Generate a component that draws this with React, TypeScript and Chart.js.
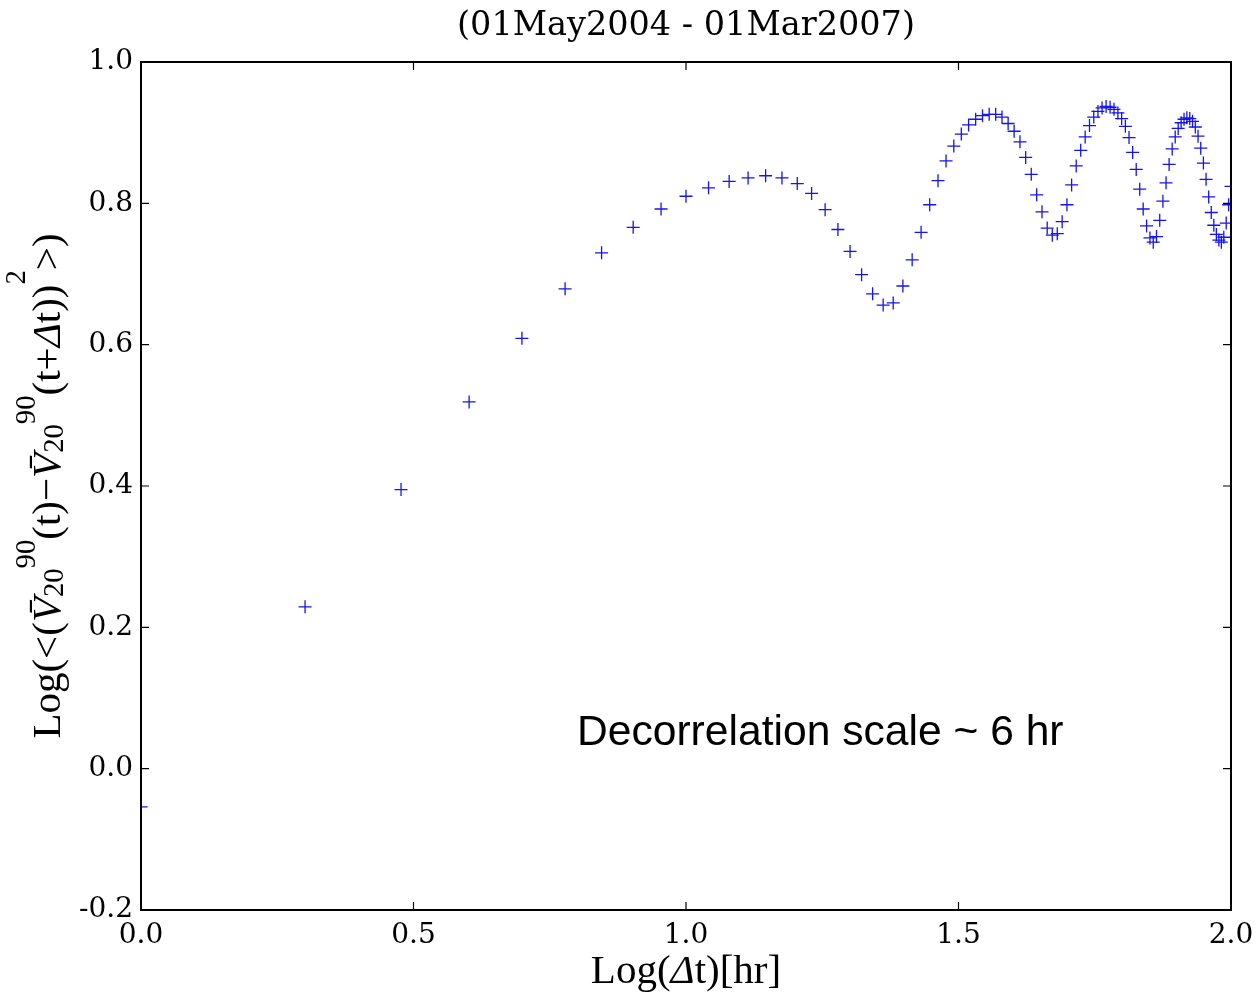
import React, { useEffect, useRef } from "react";
import { Chart, registerables } from "chart.js";

Chart.register(...registerables);

// ---------------- data ----------------
const TITLE = "(01May2004 - 01Mar2007)";

const LAG_HOURS = [
  1, 2, 3, 4, 5, 6, 7, 8, 9, 10,
  11, 12, 13, 14, 15, 16, 17, 18, 19, 20,
  21, 22, 23, 24, 25, 26, 27, 28, 29, 30,
  31, 32, 33, 34, 35, 36, 37, 38, 39, 40,
  41, 42, 43, 44, 45, 46, 47, 48, 49, 50,
  51, 52, 53, 54, 55, 56, 57, 58, 59, 60,
  61, 62, 63, 64, 65, 66, 67, 68, 69, 70,
  71, 72, 73, 74, 75, 76, 77, 78, 79, 80,
  81, 82, 83, 84, 85, 86, 87, 88, 89, 90,
  91, 92, 93, 94, 95, 96, 97, 98, 99, 100,
];

const LOG_VARIANCE = [
  -0.054, 0.229, 0.395, 0.519, 0.609, 0.679, 0.73, 0.766, 0.792, 0.81,
  0.822, 0.831, 0.836, 0.839, 0.836, 0.828, 0.814, 0.791, 0.763, 0.732,
  0.699, 0.672, 0.656, 0.659, 0.683, 0.72, 0.759, 0.798, 0.832, 0.86,
  0.881, 0.898, 0.911, 0.919, 0.924, 0.926, 0.926, 0.922, 0.913, 0.902,
  0.887, 0.865, 0.841, 0.812, 0.788, 0.765, 0.755, 0.757, 0.774, 0.798,
  0.826, 0.853, 0.875, 0.894, 0.91, 0.922, 0.93, 0.935, 0.937, 0.936,
  0.933, 0.928, 0.92, 0.909, 0.893, 0.872, 0.848, 0.82, 0.792, 0.768,
  0.751, 0.745, 0.753, 0.776, 0.803, 0.829, 0.855, 0.877, 0.894, 0.906,
  0.914, 0.919, 0.921, 0.92, 0.916, 0.908, 0.895, 0.878, 0.857, 0.834,
  0.809, 0.787, 0.769, 0.756, 0.748, 0.745, 0.752, 0.772, 0.798, 0.824,
];

const X_TICK_LABELS = [0.0, 0.5, 1.0, 1.5, 2.0]; // log10 of hours
const Y_MIN = -0.2;
const Y_MAX = 1.0;
const Y_STEP = 0.2;

const ANNOTATION = "Decorrelation scale ~ 6 hr";
const ANNOTATION_LOG_HOURS = 0.8;
const ANNOTATION_Y = 0.034;

type Seg = { t: string; italic?: boolean; pos?: "sub" | "sup"; shift?: number };

const Y_TITLE: Seg[] = [
  { t: "Log(<(" },
  { t: "V\u0304", italic: true },
  { t: "20", pos: "sub" },
  { t: "90", pos: "sup" },
  { t: "(t)\u2212" },
  { t: "V\u0304", italic: true },
  { t: "20", pos: "sub" },
  { t: "90", pos: "sup" },
  { t: "(t+" },
  { t: "\u0394", italic: true },
  { t: "t))" },
  { t: "2", pos: "sup", shift: -0.85 },
  { t: ">)" },
];

const X_TITLE: Seg[] = [{ t: "Log(" }, { t: "\u0394", italic: true }, { t: "t)[hr]" }];

// ---------------- helpers ----------------
function drawRich(ctx: CanvasRenderingContext2D, segs: Seg[], size: number, family: string) {
  const fontOf = (s: number, it?: boolean) => `${it ? "italic " : ""}${s}px ${family}`;
  const items = segs.map((s) => {
    const sz = s.pos ? size * 0.7 : size;
    ctx.font = fontOf(sz, s.italic);
    return { ...s, sz, w: ctx.measureText(s.t).width };
  });
  const total = items.reduce((a, b) => a + b.w, 0);
  let x = -total / 2;
  ctx.textAlign = "left";
  ctx.textBaseline = "alphabetic";
  for (const it of items) {
    ctx.font = fontOf(it.sz, it.italic);
    let dy = 0;
    if (it.shift !== undefined) dy = it.shift * size;
    else if (it.pos === "sub") dy = 0.08 * size;
    else if (it.pos === "sup") dy = -0.62 * size;
    ctx.fillText(it.t, x, dy);
    x += it.w;
  }
}

const framePlugin = {
  id: "frameTicks",
  afterDraw(chart: any) {
    const { ctx, chartArea: a, scales } = chart;
    const sx = scales.x;
    const sy = scales.y;
    ctx.save();
    ctx.strokeStyle = "#000";
    ctx.lineWidth = 1.2;
    ctx.beginPath();
    const tl = 8;
    sx.ticks.forEach((t: any) => {
      const px = sx.getPixelForValue(t.value);
      ctx.moveTo(px, a.bottom);
      ctx.lineTo(px, a.bottom - tl);
      ctx.moveTo(px, a.top);
      ctx.lineTo(px, a.top + tl);
    });
    sy.ticks.forEach((t: any) => {
      const py = sy.getPixelForValue(t.value);
      ctx.moveTo(a.left, py);
      ctx.lineTo(a.left + tl, py);
      ctx.moveTo(a.right, py);
      ctx.lineTo(a.right - tl, py);
    });
    ctx.stroke();
    ctx.lineWidth = 2;
    ctx.strokeRect(a.left, a.top, a.right - a.left, a.bottom - a.top);
    ctx.restore();
  },
};

const textPlugin = {
  id: "richTexts",
  afterDraw(chart: any) {
    const { ctx, chartArea: a, scales } = chart;
    ctx.save();
    ctx.fillStyle = "#000";
    // y title (rotated)
    ctx.save();
    ctx.translate(60, (a.top + a.bottom) / 2);
    ctx.rotate(-Math.PI / 2);
    drawRich(ctx, Y_TITLE, 41, '"Liberation Serif", serif');
    ctx.restore();
    // x title
    ctx.save();
    ctx.translate((a.left + a.right) / 2, 983);
    drawRich(ctx, X_TITLE, 41, '"Liberation Serif", serif');
    ctx.restore();
    // annotation
    ctx.font = '42.6px "Liberation Sans", Arial, sans-serif';
    ctx.textAlign = "left";
    ctx.textBaseline = "alphabetic";
    const ax = scales.x.getPixelForValue(Math.pow(10, ANNOTATION_LOG_HOURS));
    const ay = scales.y.getPixelForValue(ANNOTATION_Y);
    ctx.fillText(ANNOTATION, ax, ay);
    ctx.restore();
  },
};

export default function App() {
  const ref = useRef<HTMLCanvasElement>(null);

  useEffect(() => {
    if (!ref.current) return;
    const points = LAG_HOURS.map((h, i) => ({ x: h, y: LOG_VARIANCE[i] }));
    const chart = new Chart(ref.current, {
      type: "scatter",
      data: {
        datasets: [
          {
            data: points,
            pointStyle: "cross",
            pointRadius: 6.5,
            pointHoverRadius: 6.5,
            pointBorderWidth: 1.3,
            pointBorderColor: "#1414f0",
            pointBackgroundColor: "#1414f0",
            clip: 0,
          } as any,
        ],
      },
      options: {
        animation: false,
        responsive: false,
        devicePixelRatio: 1,
        events: [],
        layout: { padding: { left: 0, right: 28, top: 0, bottom: 0 } },
        plugins: {
          legend: { display: false },
          tooltip: { enabled: false },
          title: {
            display: true,
            text: TITLE,
            fullSize: false,
            color: "#000",
            font: { family: '"DejaVu Serif", serif', size: 33.5, weight: "normal" as any, lineHeight: 1.2 },
            padding: { top: 6, bottom: 15.8 },
          },
        },
        scales: {
          x: {
            type: "logarithmic",
            min: 1,
            max: 100,
            afterBuildTicks: (s: any) => {
              s.ticks = X_TICK_LABELS.map((v) => ({ value: Math.pow(10, v) }));
            },
            afterFit: (s: any) => {
              s.height = 85;
              s.paddingLeft = 0;
              s.paddingRight = 0;
            },
            grid: { display: false, drawTicks: false },
            border: { display: false },
            ticks: {
              autoSkip: false,
              maxRotation: 0,
              minRotation: 0,
              padding: 9,
              color: "#000",
              font: { family: '"DejaVu Serif", serif', size: 28 },
              callback: (v: any) => Math.log10(Number(v)).toFixed(1),
            },
          },
          y: {
            type: "linear",
            min: Y_MIN,
            max: Y_MAX,
            afterFit: (s: any) => {
              s.width = 141;
              s.paddingTop = 0;
              s.paddingBottom = 0;
            },
            grid: { display: false, drawTicks: false },
            border: { display: false },
            ticks: {
              stepSize: Y_STEP,
              padding: 8,
              color: "#000",
              font: { family: '"DejaVu Serif", serif', size: 28 },
              callback: (v: any) => {
                const n = Number(v);
                return (Math.abs(n) < 1e-9 ? 0 : n).toFixed(1);
              },
            },
          },
        },
      },
      plugins: [framePlugin, textPlugin],
    });
    return () => chart.destroy();
  }, []);

  return (
    <div style={{ position: "absolute", left: 0, top: 0, width: 1259, height: 995, background: "#fff" }}>
      <canvas ref={ref} width={1259} height={995} style={{ display: "block" }} />
    </div>
  );
}
